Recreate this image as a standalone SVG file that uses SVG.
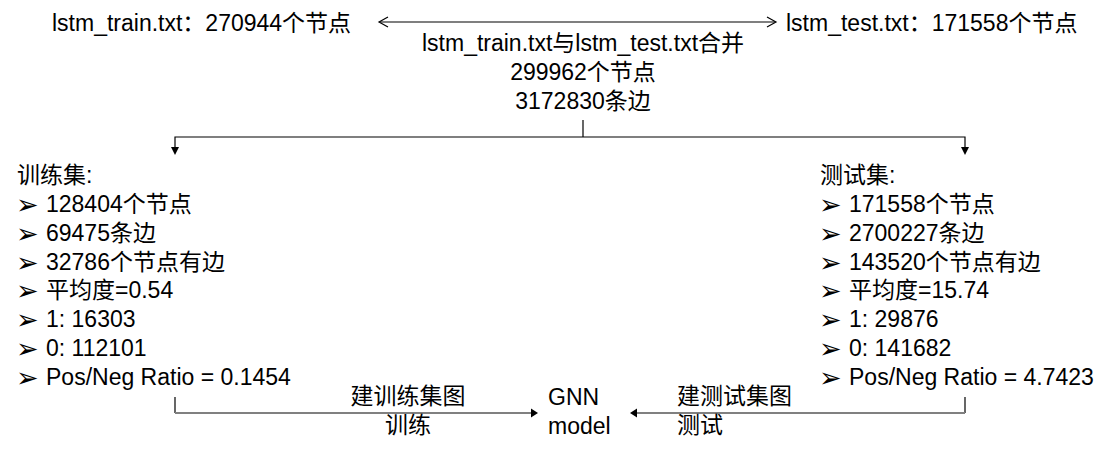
<svg xmlns="http://www.w3.org/2000/svg" width="1119" height="457" viewBox="0 0 1119 457">
<style>
text{font-family:"Liberation Sans","Noto Sans CJK SC",sans-serif;font-size:23px;fill:#000}
.b{font-family:"DejaVu Sans",sans-serif;font-size:27px}
.c{text-anchor:middle}
.ln{fill:none;stroke:#000;stroke-width:1.2}
.gl{fill:none;stroke:#808080;stroke-width:2}
.ah{fill:#000}
</style>
<rect width="1119" height="457" fill="#fff"/>
<g id="connectors">
  <line class="ln" x1="380" y1="22" x2="775" y2="22"/>
  <polyline class="ln" points="388,17 379,22 388,27"/>
  <polyline class="ln" points="767,17 776,22 767,27"/>
  <line class="ln" x1="583" y1="120" x2="583" y2="137"/>
  <polyline class="ln" points="175,148 175,137 965,137 965,148"/>
  <polygon class="ah" points="171,147 179,147 175,155"/>
  <polygon class="ah" points="961,147 969,147 965,155"/>
  <line class="ln" x1="175" y1="397" x2="175" y2="413"/>
  <line class="gl" x1="175" y1="413" x2="532" y2="413"/>
  <polygon class="ah" points="531,408.5 538,413 531,417.5"/>
  <line class="ln" x1="965" y1="397" x2="965" y2="413"/>
  <line class="gl" x1="965" y1="413" x2="636" y2="413"/>
  <polygon class="ah" points="637,408.5 630,413 637,417.5"/>
</g>
<g id="train-file"><text x="52" y="31">lstm_train.txt：270944个节点</text></g>
<g id="test-file"><text x="786" y="31">lstm_test.txt：171558个节点</text></g>
<g id="merge">
  <text class="c" x="583" y="51">lstm_train.txt与lstm_test.txt合并</text>
  <text class="c" x="583" y="80">299962个节点</text>
  <text class="c" x="583" y="109">3172830条边</text>
</g>
<g id="train-set">
  <text x="17" y="183">训练集:</text>
  <text class="b" x="16" y="214">➢</text><text x="46" y="212">128404个节点</text>
  <text class="b" x="16" y="243">➢</text><text x="46" y="241">69475条边</text>
  <text class="b" x="16" y="272">➢</text><text x="46" y="270">32786个节点有边</text>
  <text class="b" x="16" y="300">➢</text><text x="46" y="298">平均度=0.54</text>
  <text class="b" x="16" y="329">➢</text><text x="46" y="327">1: 16303</text>
  <text class="b" x="16" y="358">➢</text><text x="46" y="356">0: 112101</text>
  <text class="b" x="16" y="387">➢</text><text x="46" y="385">Pos/Neg Ratio = 0.1454</text>
</g>
<g id="test-set">
  <text x="820" y="183">测试集:</text>
  <text class="b" x="819" y="214">➢</text><text x="849" y="212">171558个节点</text>
  <text class="b" x="819" y="243">➢</text><text x="849" y="241">2700227条边</text>
  <text class="b" x="819" y="272">➢</text><text x="849" y="270">143520个节点有边</text>
  <text class="b" x="819" y="300">➢</text><text x="849" y="298">平均度=15.74</text>
  <text class="b" x="819" y="329">➢</text><text x="849" y="327">1: 29876</text>
  <text class="b" x="819" y="358">➢</text><text x="849" y="356">0: 141682</text>
  <text class="b" x="819" y="387">➢</text><text x="849" y="385">Pos/Neg Ratio = 4.7423</text>
</g>
<g id="gnn-model">
  <text x="548" y="405">GNN</text>
  <text x="548" y="434">model</text>
</g>
<g id="train-label">
  <text class="c" x="408" y="404">建训练集图</text>
  <text class="c" x="408" y="433">训练</text>
</g>
<g id="test-label">
  <text x="677" y="404">建测试集图</text>
  <text x="677" y="433">测试</text>
</g>
</svg>
